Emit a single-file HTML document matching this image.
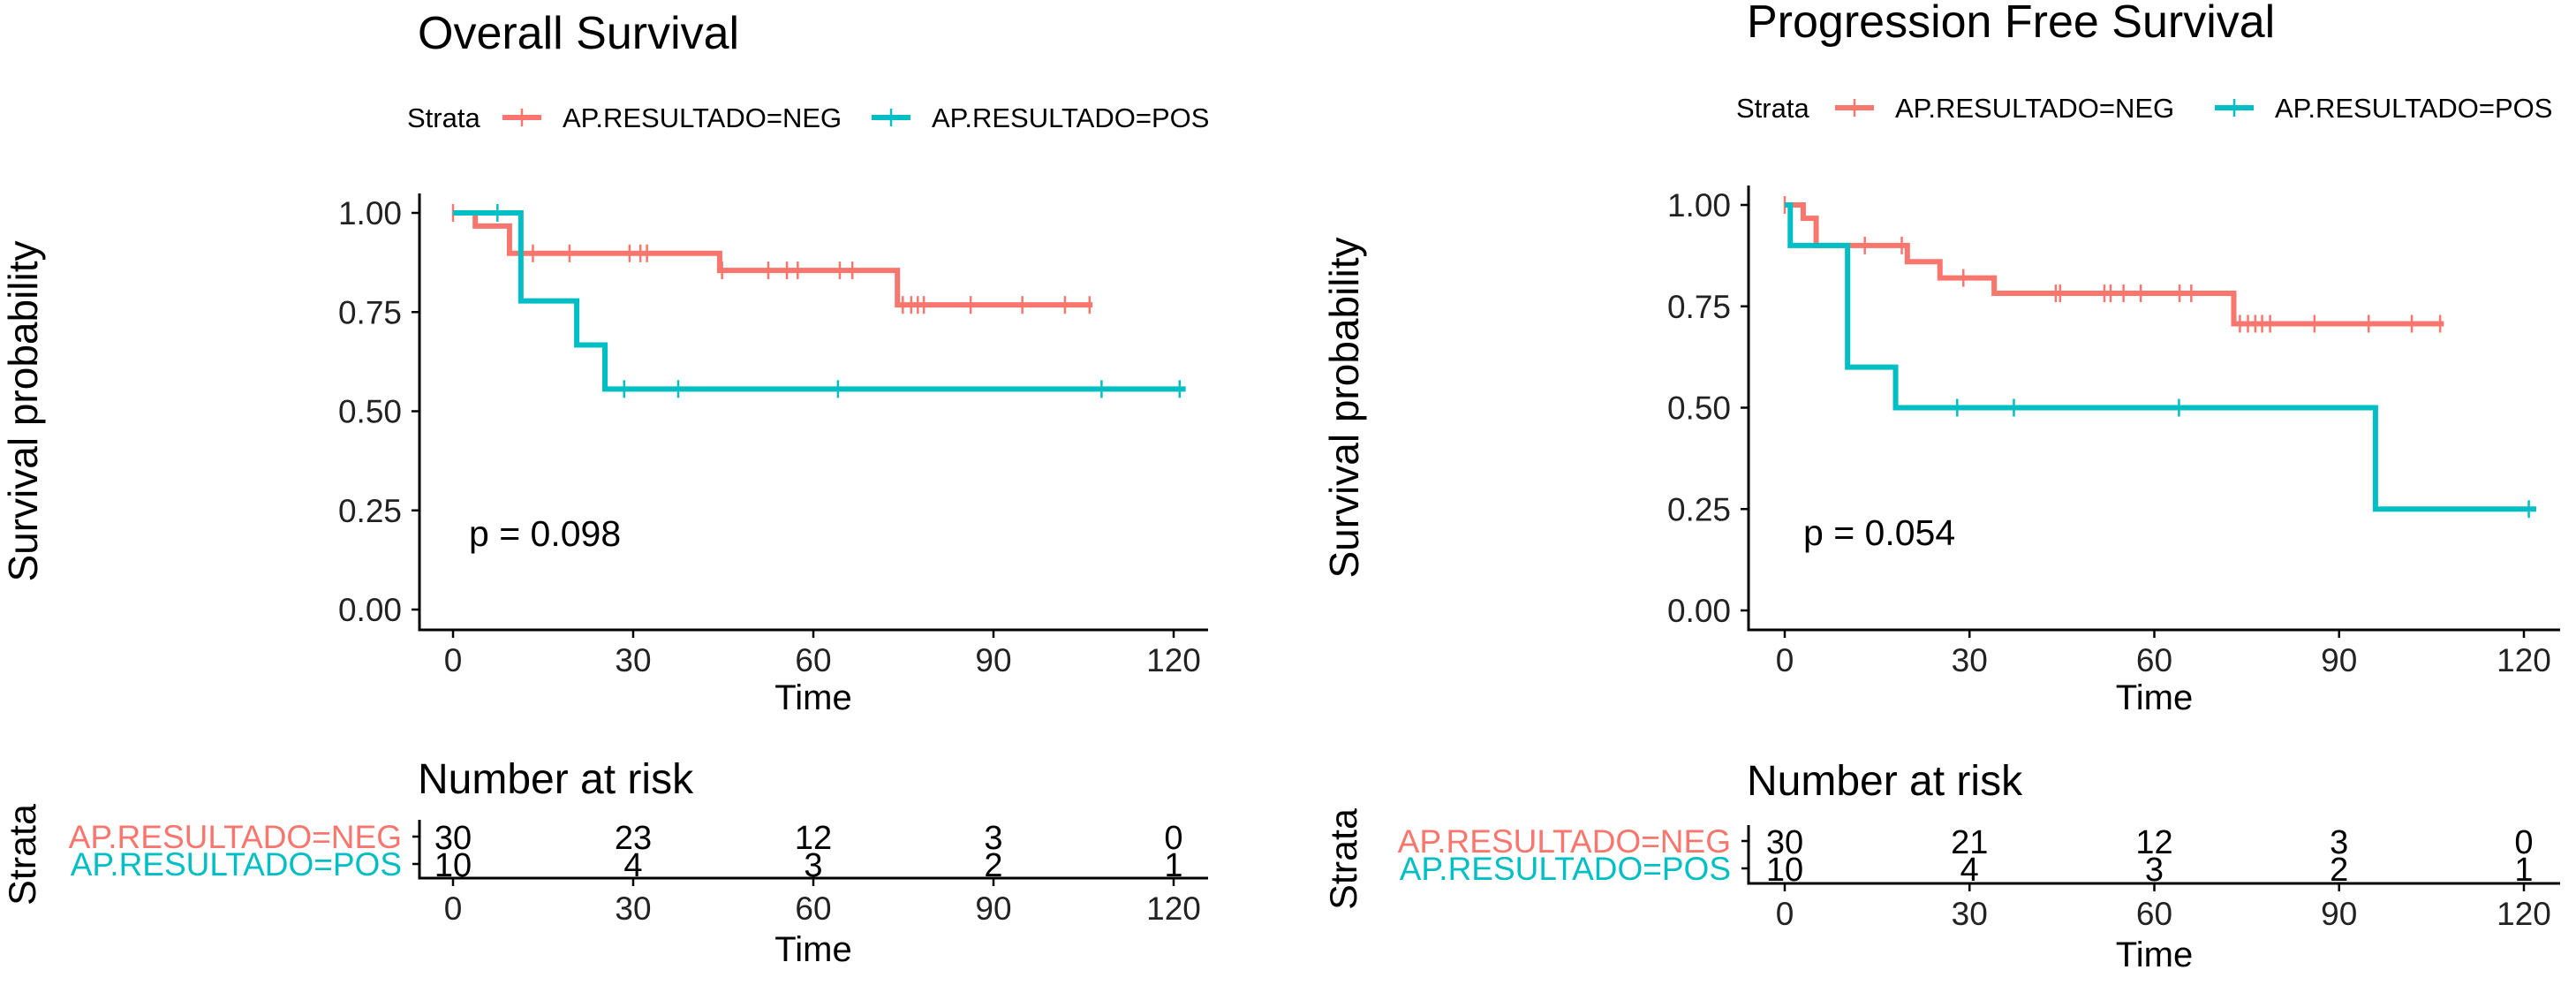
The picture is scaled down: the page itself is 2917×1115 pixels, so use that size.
<!DOCTYPE html>
<html><head><meta charset="utf-8"><style>
html,body{margin:0;padding:0;background:#fff;width:2917px;height:1115px;overflow:hidden}
svg{display:block;font-family:"Liberation Sans",Arial,sans-serif}
</style></head><body>
<svg id="fig" width="2917" height="1115" viewBox="0 0 2917 1115"></svg>
<script>
// ---- data ----
const xTicks = [0, 30, 60, 90, 120];
const yTicks = [0, 0.25, 0.5, 0.75, 1.0];
const yTickLabels = ["0.00", "0.25", "0.50", "0.75", "1.00"];

// Overall survival
const osNegTimes = [0, 3.7, 9.4, 44.4, 74.0, 106.5];
const osNegSurv = [1.0, 0.967, 0.898, 0.855, 0.768, 0.768];
const osNegCensor = [0, 13.3, 19.4, 29.4, 31.2, 32.3, 44.8, 52.5, 55.6, 57.4, 64.4, 66.5, 74.9, 76.3, 77.4, 78.4, 86.2, 94.8, 101.9, 106];
const osPosTimes = [0, 11.3, 20.6, 25.3, 122];
const osPosSurv = [1.0, 0.778, 0.667, 0.556, 0.556];
const osPosCensor = [7.4, 28.5, 37.5, 64.1, 108, 121];
const osRiskNeg = [30, 23, 12, 3, 0];
const osRiskPos = [10, 4, 3, 2, 1];

// Progression free survival
const pfsNegTimes = [0, 3.0, 5.1, 19.9, 25.2, 34.0, 72.9, 107];
const pfsNegSurv = [1.0, 0.967, 0.9, 0.86, 0.82, 0.782, 0.707, 0.707];
const pfsNegCensor = [0, 13.0, 19.0, 29.0, 44.0, 44.7, 51.9, 52.9, 55.0, 57.8, 64.1, 66.0, 73.9, 75.2, 76.4, 77.5, 78.8, 86.0, 94.8, 101.8, 106.4];
const pfsPosTimes = [0, 0.9, 10.2, 18.0, 95.9, 122];
const pfsPosSurv = [1.0, 0.9, 0.6, 0.5, 0.25, 0.25];
const pfsPosCensor = [28.0, 37.2, 64.0, 120.8];
const pfsRiskNeg = [30, 21, 12, 3, 0];
const pfsRiskPos = [10, 4, 3, 2, 1];

const RED = "#F8766D", TEAL = "#00BFC4";
const NS = "http://www.w3.org/2000/svg";
const svg = document.getElementById("fig");

function el(tag, attrs, parent, text) {
  const e = document.createElementNS(NS, tag);
  for (const k in attrs) e.setAttribute(k, attrs[k]);
  if (text !== undefined) e.textContent = text;
  (parent || svg).appendChild(e);
  return e;
}

function panel(cfg) {
  const g = el("g", {});
  
  
  const xs = t => cfg.x0 + (t / 120) * (cfg.x120 - cfg.x0);
  const ys = s => cfg.y0 - s * (cfg.y0 - cfg.y1);

  const title = el("text", {x: cfg.axX - 2, y: cfg.titleY, "font-size": 52, fill: "#000"}, g, cfg.title);
  
  

  // legend
  const lg = el("g", {}, g);
  
  
  const ly = cfg.legY;
  el("text", {x: cfg.legX, y: ly + 11, "font-size": 31}, lg, "Strata");
  const ent = [[cfg.legNegLine, RED, "AP.RESULTADO=NEG"], [cfg.legPosLine, TEAL, "AP.RESULTADO=POS"]];
  ent.forEach(([lx, c, txt], i) => {
    const e = el("g", {}, lg);
    
    
    el("line", {x1: lx, x2: lx + 44, y1: ly, y2: ly, stroke: c, "stroke-width": 6}, e);
    el("line", {x1: lx + 22, x2: lx + 22, y1: ly - 10, y2: ly + 10, stroke: c, "stroke-width": 2.5}, e);
    el("text", {x: lx + 68, y: ly + 11, "font-size": 31}, e, txt);
  });

  // axes
  const ax = el("g", {}, g);
  
  
  el("line", {x1: cfg.axX, x2: cfg.axX, y1: cfg.y1 - 22, y2: cfg.axY + 1.5, stroke: "#000", "stroke-width": 3}, ax);
  el("line", {x1: cfg.axX - 1.5, x2: cfg.axRight, y1: cfg.axY, y2: cfg.axY, stroke: "#000", "stroke-width": 3}, ax);
  yTicks.forEach((v, i) => {
    el("line", {x1: cfg.axX - 9, x2: cfg.axX, y1: ys(v), y2: ys(v), stroke: "#000", "stroke-width": 2.5}, ax);
    const t = el("text", {x: cfg.axX - 20, y: ys(v) + 13, "font-size": 37, "text-anchor": "end", fill: "#222"}, ax, yTickLabels[i]);
    
    
  });
  xTicks.forEach(v => {
    el("line", {x1: xs(v), x2: xs(v), y1: cfg.axY, y2: cfg.axY + 9, stroke: "#000", "stroke-width": 2.5}, ax);
    const t = el("text", {x: xs(v), y: cfg.axY + 47, "font-size": 37, "text-anchor": "middle", fill: "#222"}, ax, String(v));
    
    
  });
  const xt = el("text", {x: (cfg.x0 + cfg.x120) / 2 + 0, y: cfg.axY + 90, "font-size": 40, "text-anchor": "middle"}, g, "Time");
  
  
  const yt = el("text", {x: 0, y: 0, "font-size": 46, "text-anchor": "middle", transform: `translate(${cfg.yLabX},${(cfg.y0 + cfg.y1) / 2}) rotate(-90)`}, g, "Survival probability");
  
  

  // curves
  function curve(times, surv, cens, color, name) {
    const cg = el("g", {}, g);
    
    
    let d = `M${xs(times[0])},${ys(surv[0])}`;
    for (let i = 1; i < times.length; i++) {
      d += ` H${xs(times[i])} V${ys(surv[i])}`;
    }
    el("path", {d, fill: "none", stroke: color, "stroke-width": 6, "stroke-linejoin": "miter"}, cg);
    const sAt = t => { let s = surv[0]; for (let i = 0; i < times.length; i++) if (times[i] <= t) s = surv[i]; return s; };
    cens.forEach(t => {
      const m = el("line", {x1: xs(t), x2: xs(t), y1: ys(sAt(t)) - 10, y2: ys(sAt(t)) + 10, stroke: color, "stroke-width": 2.5}, cg);
      
      
    });
  }
  curve(cfg.negT, cfg.negS, cfg.negC, RED, "curve-neg");
  curve(cfg.posT, cfg.posS, cfg.posC, TEAL, "curve-pos");

  const p = el("text", {x: cfg.pX, y: cfg.pY, "font-size": 41}, g, cfg.pText);
  
  

  // risk table
  const rt = el("g", {}, g);
  
  
  el("text", {x: cfg.axX - 2, y: cfg.rTitleY, "font-size": 48}, rt, "Number at risk");
  el("line", {x1: cfg.axX, x2: cfg.axX, y1: cfg.rAxY - 66, y2: cfg.rAxY + 1.5, stroke: "#000", "stroke-width": 3}, rt);
  el("line", {x1: cfg.axX - 1.5, x2: cfg.axRight, y1: cfg.rAxY, y2: cfg.rAxY, stroke: "#000", "stroke-width": 3}, rt);
  const rows = [[cfg.rNegY, RED, "AP.RESULTADO=NEG", cfg.riskNeg], [cfg.rPosY, TEAL, "AP.RESULTADO=POS", cfg.riskPos]];
  rows.forEach(([ry, c, lab, vals], ri) => {
    el("line", {x1: cfg.axX - 8, x2: cfg.axX, y1: ry, y2: ry, stroke: "#000", "stroke-width": 2.5}, rt);
    const l = el("text", {x: cfg.axX - 20, y: ry + 13, "font-size": 37, "text-anchor": "end", fill: c}, rt, lab);
    
    
    vals.forEach((v, i) => {
      const t = el("text", {x: xs(xTicks[i]), y: ry + 14, "font-size": 38, "text-anchor": "middle"}, rt, String(v));
      
      
    });
  });
  xTicks.forEach(v => {
    el("line", {x1: xs(v), x2: xs(v), y1: cfg.rAxY, y2: cfg.rAxY + 9, stroke: "#000", "stroke-width": 2.5}, rt);
    el("text", {x: xs(v), y: cfg.rAxY + 47, "font-size": 37, "text-anchor": "middle", fill: "#222"}, rt, String(v));
  });
  el("text", {x: (cfg.x0 + cfg.x120) / 2, y: cfg.rAxY + 94, "font-size": 40, "text-anchor": "middle"}, rt, "Time");
  el("text", {x: 0, y: 0, "font-size": 43, "text-anchor": "middle", transform: `translate(${cfg.yLabX - 2},${(cfg.rNegY + cfg.rPosY) / 2 + 5}) rotate(-90)`}, rt, "Strata");
}

panel({name: "overall-survival-panel", title: "Overall Survival", titleY: 55,
  x0: 513, x120: 1329, y1: 241, y0: 690, axX: 475, axY: 713, axRight: 1368,
  legY: 133, legX: 461, legNegLine: 569, legPosLine: 987,
  yLabX: 42, pX: 531, pY: 618, pText: "p = 0.098",
  negT: osNegTimes, negS: osNegSurv, negC: osNegCensor,
  posT: osPosTimes, posS: osPosSurv, posC: osPosCensor,
  rTitleY: 898, rNegY: 947, rPosY: 978, rAxY: 994, riskNeg: osRiskNeg, riskPos: osRiskPos});

panel({name: "progression-free-survival-panel", title: "Progression Free Survival", titleY: 42,
  x0: 2021, x120: 2858, y1: 232, y0: 691, axX: 1980, axY: 713, axRight: 2899,
  legY: 122, legX: 1966, legNegLine: 2078, legPosLine: 2508,
  yLabX: 1538, pX: 2042, pY: 617, pText: "p = 0.054",
  negT: pfsNegTimes, negS: pfsNegSurv, negC: pfsNegCensor,
  posT: pfsPosTimes, posS: pfsPosSurv, posC: pfsPosCensor,
  rTitleY: 900, rNegY: 952, rPosY: 983, rAxY: 1000, riskNeg: pfsRiskNeg, riskPos: pfsRiskPos});
</script>
</body></html>
